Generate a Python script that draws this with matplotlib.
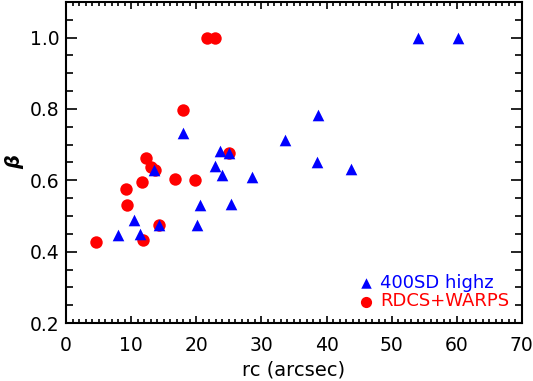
import numpy as np
import matplotlib
matplotlib.use("Agg")
import matplotlib.pyplot as plt
from matplotlib.ticker import MultipleLocator

# 400SD high-z sample
sd_rc = [7.95, 10.4, 11.4, 13.5, 14.3, 18.0, 20.15, 20.5, 22.8, 23.6, 23.9,
         25.1, 25.4, 28.5, 33.7, 38.7, 38.5, 43.7, 54.1, 60.15]
sd_beta = [0.448, 0.489, 0.450, 0.630, 0.474, 0.734, 0.476, 0.530, 0.640, 0.681, 0.616,
           0.678, 0.535, 0.609, 0.714, 0.782, 0.652, 0.631, 1.0, 1.0]

# RDCS + WARPS sample
rw_rc = [4.6, 9.2, 9.4, 11.7, 11.8, 12.3, 13.1, 13.6, 14.3, 16.7, 19.85, 17.95,
         21.7, 22.9, 25.1]
rw_beta = [0.427, 0.577, 0.530, 0.595, 0.433, 0.662, 0.638, 0.628, 0.474, 0.605, 0.602,
           0.796, 1.0, 1.0, 0.678]

plt.rcParams['font.family'] = 'DejaVu Sans'
fig = plt.figure(figsize=(5.33, 3.81), dpi=100)
ax = fig.add_axes([0.124, 0.152, 0.855, 0.843])

ax.scatter(rw_rc, rw_beta, s=80, c='red', marker='o', linewidths=0, label='RDCS+WARPS', zorder=2)
ax.scatter(sd_rc, sd_beta, s=70, c='blue', marker='^', linewidths=0, label='400SD highz', zorder=3)

ax.set_xlim(0, 70)
ax.set_ylim(0.2, 1.1)
ax.xaxis.set_major_locator(MultipleLocator(10))
ax.xaxis.set_minor_locator(MultipleLocator(1))
ax.yaxis.set_major_locator(MultipleLocator(0.2))
ax.yaxis.set_minor_locator(MultipleLocator(0.05))
ax.tick_params(which='both', direction='in', top=True, right=True, labelsize=13.5, width=1.2)
ax.tick_params(which='major', length=5)
ax.tick_params(which='minor', length=3)
ax.tick_params(axis='x', which='major', pad=9)
ax.tick_params(axis='y', which='major', length=8, pad=5)
ax.tick_params(axis='y', which='minor', length=5)
ax.set_yticks([0.2, 0.4, 0.6, 0.8, 1.0])
ax.set_yticklabels(['0.2', '0.4', '0.6', '0.8', '1.0'])
for s in ax.spines.values():
    s.set_linewidth(1.5)

ax.set_xlabel('rc (arcsec)', fontsize=14, labelpad=4)
ax.set_ylabel('β', fontsize=14, fontweight='bold', style='italic', labelpad=4)

h, l = ax.get_legend_handles_labels()
ax.legend(h[::-1], l[::-1], loc='lower right', frameon=False, labelcolor=['blue', 'red'],
          fontsize=13, handletextpad=-0.2, labelspacing=0.05, borderaxespad=0.3,
          borderpad=0.4, markerscale=0.9)

fig.savefig('out.png', dpi=100)
